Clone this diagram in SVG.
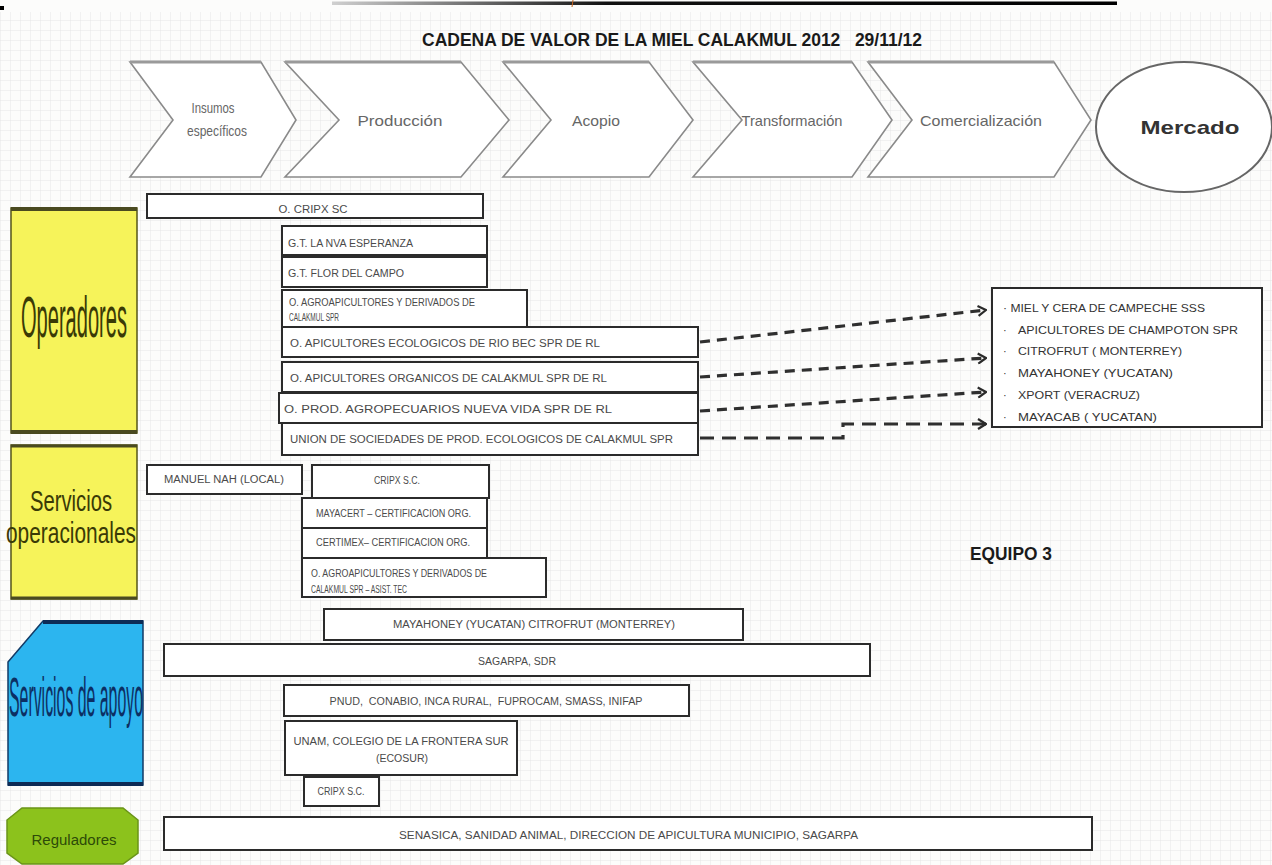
<svg xmlns="http://www.w3.org/2000/svg" width="1272" height="865" viewBox="0 0 1272 865">
<defs>
<pattern id="grid" width="10" height="10" patternUnits="userSpaceOnUse">
<path d="M10,0 L0,0 L0,10" fill="none" stroke="#e2e2e2" stroke-width="0.8"/>
</pattern>
<linearGradient id="topline" x1="0" x2="1" y1="0" y2="0">
<stop offset="0" stop-color="#d0d0d0"/>
<stop offset="0.35" stop-color="#111"/>
<stop offset="1" stop-color="#000"/>
</linearGradient>
<marker id="arr" viewBox="0 0 10 12" refX="9" refY="6" markerWidth="10" markerHeight="12" markerUnits="userSpaceOnUse" orient="auto">
<path d="M1,1 L9,6 L1,11" fill="none" stroke="#2a2a2a" stroke-width="2.2"/>
</marker>
</defs>
<style>
.chev{fill:#ffffff;stroke:#8a8a8a;stroke-width:1.6}
.chevtop{fill:none;stroke:#9a9a9a;stroke-width:3}
.ct{font-family:"Liberation Sans",Arial,sans-serif;font-size:15px;fill:#666;text-anchor:middle}
.box{fill:#ffffff;stroke:#2b2b2b;stroke-width:2}
.bt{font-family:"Liberation Sans",Arial,sans-serif;font-size:10px;fill:#4a4a4a}
.bc{text-anchor:middle}
.yel{fill:#f6f35a;stroke:#55551a;stroke-width:1.5}
.yt{font-family:"Liberation Sans",Arial,sans-serif;fill:#3a3a06;text-anchor:middle}
.lst{font-family:"Liberation Sans",Arial,sans-serif;font-size:11px;fill:#333}
.dash{fill:none;stroke:#2f2f2f;stroke-width:3.2;stroke-dasharray:10 7}
.dash2{fill:none;stroke:#2f2f2f;stroke-width:3.2;stroke-dasharray:14 8}
</style>
<rect x="0" y="0" width="1272" height="865" fill="#fcfcfb"/>
<rect x="0" y="12" width="1272" height="853" fill="url(#grid)"/>
<rect x="0" y="6" width="4" height="4" fill="#000"/>
<rect x="332" y="1.5" width="785" height="3.5" fill="url(#topline)"/>
<line x1="573" y1="0" x2="572" y2="7" stroke="#c0601a" stroke-width="1"/>

<g id="title">
<text x="672" y="46" font-family="Liberation Sans, Arial, sans-serif" font-weight="bold" font-size="18" fill="#1a1a1a" text-anchor="middle" textLength="500" lengthAdjust="spacingAndGlyphs" xml:space="preserve">CADENA DE VALOR DE LA MIEL CALAKMUL 2012   29/11/12</text>
</g>

<g id="chevron-insumos">
<path class="chev" d="M130,62 L261,62 L296,120 L261,177 L130,177 L173,120 Z"/>
<line class="chevtop" x1="130" y1="62" x2="261" y2="62"/>
<text class="ct" x="213" y="113" font-size="13" textLength="43" lengthAdjust="spacingAndGlyphs">Insumos</text>
<text class="ct" x="217" y="136" font-size="13" textLength="60" lengthAdjust="spacingAndGlyphs">específicos</text>
</g>
<g id="chevron-produccion">
<path class="chev" d="M285,62 L461,62 L509,120 L461,177 L285,177 L339,120 Z"/>
<line class="chevtop" x1="285" y1="62" x2="461" y2="62"/>
<text class="ct" x="400" y="126" textLength="85" lengthAdjust="spacingAndGlyphs">Producción</text>
</g>
<g id="chevron-acopio">
<path class="chev" d="M503,62 L649,62 L693,120 L649,177 L503,177 L551,120 Z"/>
<line class="chevtop" x1="503" y1="62" x2="649" y2="62"/>
<text class="ct" x="596" y="126" textLength="48" lengthAdjust="spacingAndGlyphs">Acopio</text>
</g>
<g id="chevron-transformacion">
<path class="chev" d="M693,62 L852,62 L892,120 L852,177 L693,177 L742,120 Z"/>
<line class="chevtop" x1="693" y1="62" x2="852" y2="62"/>
<text class="ct" x="792" y="126" textLength="101" lengthAdjust="spacingAndGlyphs">Transformación</text>
</g>
<g id="chevron-comercializacion">
<path class="chev" d="M868,62 L1054,62 L1091,120 L1054,177 L868,177 L912,120 Z"/>
<line class="chevtop" x1="868" y1="62" x2="1054" y2="62"/>
<text class="ct" x="981" y="126" textLength="122" lengthAdjust="spacingAndGlyphs">Comercialización</text>
</g>
<g id="mercado">
<ellipse cx="1184" cy="127" rx="88" ry="65" fill="#ffffff" stroke="#666" stroke-width="2"/>
<text x="1190" y="134" font-family="Liberation Sans, Arial, sans-serif" font-weight="bold" font-size="19" fill="#333" text-anchor="middle" textLength="99" lengthAdjust="spacingAndGlyphs">Mercado</text>
</g>

<g id="cat-operadores">
<rect class="yel" x="11" y="208" width="126" height="225"/>
<line x1="11" y1="209" x2="137" y2="209" stroke="#4a4a20" stroke-width="4"/>
<line x1="11" y1="432" x2="137" y2="432" stroke="#4a4a20" stroke-width="4"/>
<text class="yt" x="74" y="337" font-size="58" textLength="106" lengthAdjust="spacingAndGlyphs">Operadores</text>
</g>
<g id="cat-servicios-operacionales">
<rect class="yel" x="11" y="445" width="126" height="154"/>
<line x1="11" y1="446" x2="137" y2="446" stroke="#4a4a20" stroke-width="3"/>
<line x1="11" y1="598" x2="137" y2="598" stroke="#4a4a20" stroke-width="3"/>
<text class="yt" x="71" y="511" font-size="29" textLength="82" lengthAdjust="spacingAndGlyphs">Servicios</text>
<text class="yt" x="71" y="543" font-size="29" textLength="130" lengthAdjust="spacingAndGlyphs">operacionales</text>
</g>
<g id="cat-servicios-apoyo">
<path d="M8,662 L43,621 L143,621 L143,785 L8,785 Z" fill="#2cb5ef" stroke="#123a66" stroke-width="1.5"/>
<line x1="43" y1="622" x2="143" y2="622" stroke="#0d2b55" stroke-width="4"/>
<line x1="8" y1="784" x2="143" y2="784" stroke="#0d2b55" stroke-width="4"/>
<text x="76" y="716" font-family="Liberation Sans, Arial, sans-serif" font-size="56" fill="#0c2f63" text-anchor="middle" textLength="134" lengthAdjust="spacingAndGlyphs">Servicios de apoyo</text>
</g>
<g id="cat-reguladores">
<path d="M22,808 L123,808 L138,820 L138,853 L123,864 L22,864 L7,853 L7,820 Z" fill="#8cc21c" stroke="#6a9418" stroke-width="1.5"/>
<text x="74" y="845" font-family="Liberation Sans, Arial, sans-serif" font-size="14" fill="#2c4a08" text-anchor="middle" textLength="85" lengthAdjust="spacingAndGlyphs">Reguladores</text>
</g>

<g id="op-cripx">
<rect class="box" x="147" y="194" width="336" height="24"/>
<text class="bt bc" x="313" y="213" textLength="69" lengthAdjust="spacingAndGlyphs">O. CRIPX SC</text>
</g>
<g id="op-nva-esperanza">
<rect class="box" x="282" y="226" width="205" height="29"/>
<text class="bt" x="288" y="247" font-size="8.5" textLength="125" lengthAdjust="spacingAndGlyphs">G.T. LA NVA ESPERANZA</text>
</g>
<g id="op-flor-campo">
<rect class="box" x="282" y="257" width="205" height="30"/>
<text class="bt" x="288" y="277" font-size="8.5" textLength="116" lengthAdjust="spacingAndGlyphs">G.T. FLOR DEL CAMPO</text>
</g>
<g id="op-agroapicultores">
<rect class="box" x="282" y="290" width="245" height="37"/>
<text class="bt" x="289" y="306" font-size="7" textLength="186" lengthAdjust="spacingAndGlyphs">O. AGROAPICULTORES Y DERIVADOS DE</text>
<text class="bt" x="289" y="321" font-size="7" textLength="50" lengthAdjust="spacingAndGlyphs">CALAKMUL SPR</text>
</g>
<g id="op-rio-bec">
<rect class="box" x="282" y="327" width="416" height="30"/>
<text class="bt" x="290" y="347" textLength="310" lengthAdjust="spacingAndGlyphs">O. APICULTORES ECOLOGICOS DE RIO BEC SPR DE RL</text>
</g>
<g id="op-organicos">
<rect class="box" x="282" y="362" width="416" height="30"/>
<text class="bt" x="290" y="382" textLength="317" lengthAdjust="spacingAndGlyphs">O. APICULTORES ORGANICOS DE CALAKMUL SPR DE RL</text>
</g>
<g id="op-nueva-vida">
<rect class="box" x="279" y="393" width="419" height="30"/>
<text class="bt" x="284" y="413" font-size="11" textLength="328" lengthAdjust="spacingAndGlyphs">O. PROD. AGROPECUARIOS NUEVA VIDA SPR DE RL</text>
</g>
<g id="op-union">
<rect class="box" x="282" y="423" width="416" height="32"/>
<text class="bt" x="290" y="443" textLength="383" lengthAdjust="spacingAndGlyphs">UNION DE SOCIEDADES DE PROD. ECOLOGICOS DE CALAKMUL SPR</text>
</g>

<g id="mercado-list">
<rect class="box" x="992" y="288" width="270" height="139"/>
<text class="lst" x="1003" y="312" textLength="202" lengthAdjust="spacingAndGlyphs">· MIEL Y CERA DE CAMPECHE SSS</text>
<text class="lst" x="1003" y="334">·</text>
<text class="lst" x="1018" y="334" textLength="220" lengthAdjust="spacingAndGlyphs">APICULTORES DE CHAMPOTON SPR</text>
<text class="lst" x="1003" y="355">·</text>
<text class="lst" x="1018" y="355" textLength="164" lengthAdjust="spacingAndGlyphs">CITROFRUT ( MONTERREY)</text>
<text class="lst" x="1003" y="377">·</text>
<text class="lst" x="1018" y="377" textLength="155" lengthAdjust="spacingAndGlyphs">MAYAHONEY (YUCATAN)</text>
<text class="lst" x="1003" y="399">·</text>
<text class="lst" x="1018" y="399" textLength="122" lengthAdjust="spacingAndGlyphs">XPORT (VERACRUZ)</text>
<text class="lst" x="1003" y="421">·</text>
<text class="lst" x="1018" y="421" textLength="139" lengthAdjust="spacingAndGlyphs">MAYACAB ( YUCATAN)</text>
</g>

<g id="so-manuel-nah">
<rect class="box" x="147" y="465" width="155" height="29"/>
<text class="bt bc" x="224" y="483" font-size="9" textLength="120" lengthAdjust="spacingAndGlyphs">MANUEL NAH (LOCAL)</text>
</g>
<g id="so-cripx">
<rect class="box" x="312" y="465" width="177" height="33"/>
<text class="bt bc" x="397" y="484" font-size="8.5" textLength="46" lengthAdjust="spacingAndGlyphs">CRIPX S.C.</text>
</g>
<g id="so-mayacert">
<rect class="box" x="302" y="498" width="185" height="30"/>
<text class="bt" x="316" y="517" font-size="8" textLength="155" lengthAdjust="spacingAndGlyphs">MAYACERT – CERTIFICACION ORG.</text>
</g>
<g id="so-certimex">
<rect class="box" x="302" y="528" width="185" height="30"/>
<text class="bt" x="316" y="546" font-size="8" textLength="154" lengthAdjust="spacingAndGlyphs">CERTIMEX– CERTIFICACION ORG.</text>
</g>
<g id="so-agroapicultores">
<rect class="box" x="302" y="558" width="244" height="39"/>
<text class="bt" x="311" y="577" font-size="8" textLength="176" lengthAdjust="spacingAndGlyphs">O. AGROAPICULTORES Y DERIVADOS DE</text>
<text class="bt" x="311" y="593" font-size="8" textLength="96" lengthAdjust="spacingAndGlyphs">CALAKMUL SPR – ASIST. TEC</text>
</g>

<g id="equipo">
<text x="1011" y="560" font-family="Liberation Sans, Arial, sans-serif" font-weight="bold" font-size="18" fill="#1a1a1a" text-anchor="middle" textLength="82" lengthAdjust="spacingAndGlyphs">EQUIPO 3</text>
</g>

<g id="sa-mayahoney">
<rect class="box" x="324" y="609" width="419" height="31"/>
<text class="bt bc" x="534" y="628" font-size="9.5" textLength="282" lengthAdjust="spacingAndGlyphs">MAYAHONEY (YUCATAN) CITROFRUT (MONTERREY)</text>
</g>
<g id="sa-sagarpa">
<rect class="box" x="164" y="644" width="706" height="32"/>
<text class="bt bc" x="517" y="665" font-size="9.5" textLength="78" lengthAdjust="spacingAndGlyphs">SAGARPA, SDR</text>
</g>
<g id="sa-pnud">
<rect class="box" x="284" y="685" width="405" height="31"/>
<text class="bt bc" x="486" y="705" font-size="9.5" textLength="313" lengthAdjust="spacingAndGlyphs" xml:space="preserve">PNUD,  CONABIO, INCA RURAL,  FUPROCAM, SMASS, INIFAP</text>
</g>
<g id="sa-unam">
<rect class="box" x="285" y="721" width="232" height="54"/>
<text class="bt bc" x="401" y="745" font-size="9.5" textLength="215" lengthAdjust="spacingAndGlyphs">UNAM, COLEGIO DE LA FRONTERA SUR</text>
<text class="bt bc" x="402" y="762" font-size="9.5" textLength="52" lengthAdjust="spacingAndGlyphs">(ECOSUR)</text>
</g>
<g id="sa-cripx">
<rect class="box" x="304" y="777" width="75" height="29"/>
<text class="bt bc" x="341" y="795" font-size="9.5" textLength="47" lengthAdjust="spacingAndGlyphs">CRIPX S.C.</text>
</g>
<g id="reg-senasica">
<rect class="box" x="164" y="817" width="928" height="33"/>
<text class="bt" x="399" y="839" font-size="10" textLength="459" lengthAdjust="spacingAndGlyphs">SENASICA, SANIDAD ANIMAL, DIRECCION DE APICULTURA MUNICIPIO, SAGARPA</text>
</g>

<g id="connectors">
<path class="dash" d="M700,342 L986,310" marker-end="url(#arr)"/>
<path class="dash" d="M700,377 L986,358" marker-end="url(#arr)"/>
<path class="dash" d="M700,411 L986,392" marker-end="url(#arr)"/>
<path class="dash2" d="M700,438 L843,438 L843,424 L986,424" marker-end="url(#arr)"/>
</g>
</svg>
